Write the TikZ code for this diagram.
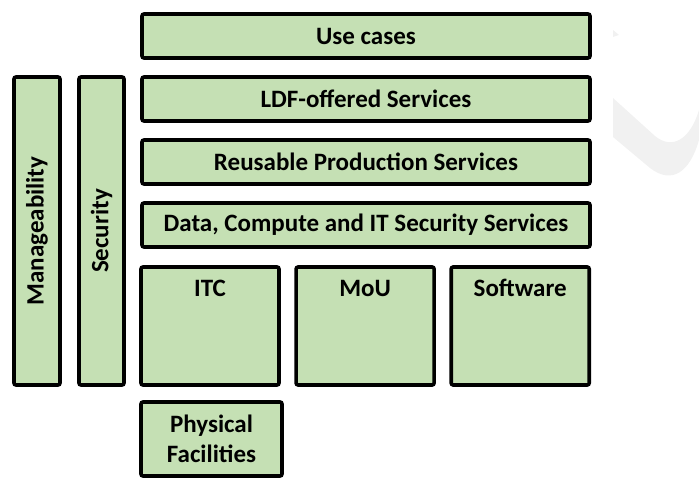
\documentclass[tikz,border=0pt]{standalone}
\usepackage{fontspec}
\setmainfont{Carlito}
\usepackage{tikz}
\usetikzlibrary{positioning}
\definecolor{layergreen}{RGB}{197,224,180}
\definecolor{markgray}{RGB}{241,241,241}

\begin{document}
\begin{tikzpicture}[x=1pt, y=-1pt, node distance=15.4pt,
    layer/.style={rectangle, rounded corners=2pt, minimum width=448pt, minimum height=44pt,
                  inner sep=0pt, text centered, draw=black, line width=3.6pt, fill=layergreen,
                  font=\fontsize{25}{30}\selectfont\bfseries},
    pillar/.style={rectangle, rounded corners=2pt, minimum width=308pt, minimum height=46pt,
                   inner sep=0pt, draw=black, line width=3.6pt, fill=layergreen, rotate=90,
                   font=\fontsize{25}{30}\selectfont\bfseries},
    block/.style={rectangle, rounded corners=2pt, minimum width=138pt, inner sep=0pt,
                  text height=30pt, text depth=88pt, align=center, draw=black, line width=3.6pt,
                  fill=layergreen, font=\fontsize{25}{30}\selectfont\bfseries}]

    \useasboundingbox (0,0) rectangle (699,481);

    % faint mark in the background
    \fill[markgray] (613,30) -- (619,35) -- (613,37) -- cycle;
    \fill[markgray] (613,98) -- (655,136) .. controls (672,150) and (690,140) .. (699,110)
        -- (699,140) .. controls (690,172) and (672,185) .. (650,168) -- (613,137) -- cycle;

    % Nodes
    \node[layer] (usecases) at (366,36) {Use cases};
    \node[layer, below=of usecases] (ldf) {LDF-offered Services};
    \node[layer, below=of ldf] (reusable) {Reusable Production Services};
    \node[layer, below=of reusable] (datasvc) {Data, Compute and IT Security Services};
    \node[block] (itc) at (210,326) {ITC};
    \node[block, right=13.5pt of itc] (mou) {MoU};
    \node[block, right=13.5pt of mou] (software) {Software};
    \node[block, minimum width=141pt, minimum height=74pt, text height=, text depth=]
        (physical) at (211.5,439) {Physical\\Facilities};
    \node[pillar] (manage) at (37,231) {Manageability};
    \node[pillar, minimum height=45pt] (security) at (101.5,231) {Security};

\end{tikzpicture}
\end{document}
